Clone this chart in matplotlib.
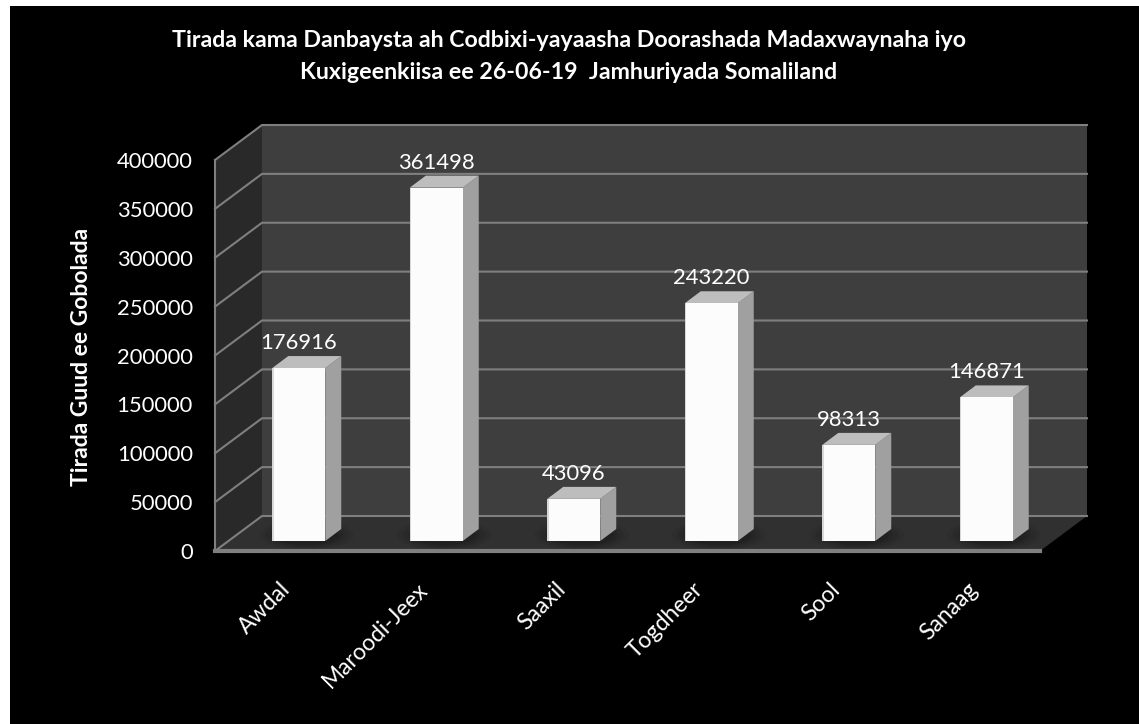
# -*- coding: utf-8 -*-
import numpy as np
import matplotlib
matplotlib.use('Agg')
import matplotlib.pyplot as plt
from matplotlib.patches import Polygon, Rectangle, Ellipse
from matplotlib.transforms import ScaledTranslation

regions = ['Awdal', 'Maroodi-Jeex', 'Saaxil', 'Togdheer', 'Sool', 'Sanaag']
votes = [176916, 361498, 43096, 243220, 98313, 146871]
yticks = [0, 50000, 100000, 150000, 200000, 250000, 300000, 350000, 400000]
title = ('Tirada kama Danbaysta ah Codbixi-yayaasha Doorashada Madaxwaynaha iyo\n'
         'Kuxigeenkiisa ee 26-06-19  Jamhuriyada Somaliland')
ylabel = 'Tirada Guud ee Gobolada'

plt.rcParams['font.family'] = ['Lato', 'DejaVu Sans']
W, H = 1139, 724
fig = plt.figure(figsize=(W / 100, H / 100), dpi=100, facecolor='white')
# black picture with a thin white strip left and top
fig.patches.append(Rectangle((10 / W, 0), 1 - 10 / W, 1 - 6 / H, transform=fig.transFigure,
                             facecolor='black', edgecolor='none', zorder=-10))

ax = fig.add_axes([215 / W, 1 - 551 / H, 825 / W, 391 / H])
ax.patch.set_visible(False)
ax.set_xlim(0, 6)
ax.set_ylim(0, 400000)

# oblique depth in data units
px_x = 6 / 825
px_y = 400000 / 391
wall_dx, wall_dy = 47 * px_x, 35 * px_y
bar_w = 53 * px_x
bar_dx, bar_dy = 16 * px_x, 12 * px_y
bar_off_x, bar_off_y = 15 * px_x, 10 * px_y

# back wall, side wall, floor
ax.add_patch(Polygon([(wall_dx, wall_dy), (6 + wall_dx, wall_dy), (6 + wall_dx, 400000 + wall_dy),
                      (wall_dx, 400000 + wall_dy)], fc='#3e3e3e', ec='none', clip_on=False, zorder=1))
ax.add_patch(Polygon([(0, 0), (wall_dx, wall_dy), (wall_dx, 400000 + wall_dy), (0, 400000)],
                     fc='#292929', ec='none', clip_on=False, zorder=1))
ax.add_patch(Polygon([(0, 0), (6, 0), (6 + wall_dx, wall_dy), (wall_dx, wall_dy)],
                     fc='#303030', ec='none', clip_on=False, zorder=1))

grid = '#7f7f7f'
for v in yticks:
    ax.plot([0, wall_dx, 6 + wall_dx], [v, v + wall_dy, v + wall_dy], color=grid, lw=1.5,
            clip_on=False, zorder=2, solid_joinstyle='miter')

floor = Polygon([(0, 0), (6, 0), (6 + wall_dx, wall_dy), (wall_dx, wall_dy)], transform=ax.transData)

for i, v in enumerate(votes):
    x0 = i + 0.5 - bar_w / 2 + bar_off_x
    x1 = x0 + bar_w
    y0 = bar_off_y
    y1 = v + bar_off_y
    # soft shadow on the floor
    for k, a in zip([1.7, 1.5, 1.3, 1.15], [0.08, 0.12, 0.16, 0.2]):
        sh = Ellipse(((x0 + x1) / 2 + bar_dx / 2, y0 + bar_dy / 2), bar_w * k * 1.05, bar_dy * k * 1.5,
                     fc='#141414', ec='none', alpha=a, zorder=3)
        ax.add_patch(sh)
        sh.set_clip_path(floor)
    # side, top, front
    ax.add_patch(Polygon([(x1, y0), (x1 + bar_dx, y0 + bar_dy), (x1 + bar_dx, y1 + bar_dy), (x1, y1)],
                         fc='#a0a0a0', ec='none', clip_on=False, zorder=4))
    ax.add_patch(Polygon([(x0, y1), (x1, y1), (x1 + bar_dx, y1 + bar_dy), (x0 + bar_dx, y1 + bar_dy)],
                         fc='#bdbdbd', ec='none', clip_on=False, zorder=4))
    ax.add_patch(Rectangle((x0, y0), bar_w, y1 - y0, fc='#fcfcfc', ec='none', clip_on=False, zorder=5))
    ax.add_patch(Rectangle((x0, y0), 1.5 * px_x, y1 - y0, fc='#d8d8d8', ec='none', clip_on=False, zorder=6))
    ax.annotate(str(v), (i + 0.5 + bar_off_x, y1), xytext=(0, 25), textcoords='offset pixels',
                ha='center', va='center', color='white', fontsize=15.8, zorder=7, annotation_clip=False)

for s in ['top', 'right']:
    ax.spines[s].set_visible(False)
ax.spines['left'].set_color(grid)
ax.spines['left'].set_linewidth(1.5)
ax.spines['bottom'].set_color(grid)
ax.spines['bottom'].set_linewidth(3)
for s in ax.spines.values():
    s.set_zorder(8)

ax.set_yticks(yticks)
ax.set_yticklabels([str(t) for t in yticks])
ax.tick_params(axis='y', length=0, pad=16, labelcolor='white', labelsize=15.8)
ax.set_xticks(np.arange(6) + 0.5)
ax.set_xticklabels(regions, rotation=45, ha='right', rotation_mode='anchor')
ax.tick_params(axis='x', length=0, pad=20, labelcolor='white', labelsize=16.5)
# nudge the slanted labels a little to the left
shift = ScaledTranslation(-3 / 72, 0, fig.dpi_scale_trans)
for lab in ax.get_xticklabels():
    lab.set_transform(lab.get_transform() + shift)

fig.text(81 / W, 1 - 357 / H, ylabel, rotation=90, ha='center', va='center', color='white',
         fontsize=16.5, fontweight='bold')
fig.text(569 / W, 1 - 56.5 / H, title, ha='center', va='center', color='white', fontsize=16.7,
         fontweight='bold', linespacing=1.62)

fig.savefig('out.png', dpi=100, facecolor=fig.get_facecolor())
